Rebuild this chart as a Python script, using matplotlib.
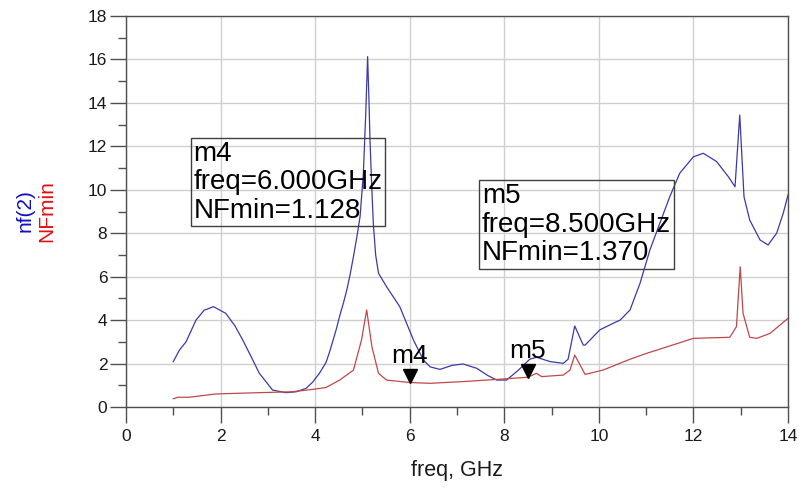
import matplotlib.pyplot as plt
import numpy as np
from matplotlib.ticker import MultipleLocator
from matplotlib.transforms import ScaledTranslation

plt.rcParams['font.family'] = ['Liberation Sans', 'DejaVu Sans']

# nf(2) trace
freq_nf = [1.00, 1.13, 1.27, 1.48, 1.65, 1.85, 2.11, 2.30, 2.47, 2.65, 2.82, 3.10,
           3.38, 3.60, 3.81, 3.95, 4.09, 4.23, 4.30, 4.38, 4.45, 4.52, 4.60, 4.67,
           4.74, 4.81, 4.88, 4.95, 5.02, 5.07, 5.11, 5.14, 5.16, 5.20, 5.23, 5.28,
           5.34, 5.51, 5.79, 6.08, 6.29, 6.43, 6.64, 6.90, 7.13, 7.42, 7.65, 7.84,
           8.05, 8.30, 8.54, 8.68, 8.97, 9.25, 9.35, 9.49, 9.67, 9.71, 10.02, 10.30,
           10.45, 10.66, 10.87, 11.08, 11.29, 11.50, 11.71, 12.00, 12.21, 12.49,
           12.74, 12.88, 12.98, 13.07, 13.19, 13.41, 13.58, 13.76, 13.90, 14.00]
nf2 = [2.09, 2.62, 3.00, 4.00, 4.45, 4.62, 4.31, 3.75, 3.08, 2.30, 1.55, 0.78,
       0.66, 0.70, 0.86, 1.15, 1.55, 2.05, 2.50, 3.08, 3.60, 4.20, 4.80, 5.39,
       6.10, 6.92, 7.80, 8.76, 10.76, 13.50, 16.13, 14.00, 12.30, 10.00, 8.46, 7.00,
       6.16, 5.54, 4.62, 3.08, 2.16, 1.85, 1.73, 1.92, 1.98, 1.78, 1.45, 1.24,
       1.24, 1.70, 2.20, 2.29, 2.09, 2.01, 2.20, 3.73, 2.85, 2.85, 3.55, 3.85,
       4.00, 4.47, 5.69, 7.23, 8.46, 9.68, 10.76, 11.52, 11.68, 11.30,
       10.60, 10.14, 13.44, 9.68, 8.61, 7.69, 7.46, 8.00, 8.92, 9.76]

# NFmin trace
freq_nfmin = [1.00, 1.10, 1.34, 1.90, 2.82, 3.50, 3.95, 4.23, 4.52, 4.81, 4.98,
              5.09, 5.20, 5.34, 5.51, 6.00, 6.43, 7.13, 7.84, 8.50, 8.68, 8.79,
              9.25, 9.39, 9.49, 9.71, 10.09, 10.66, 11.01, 12.00, 12.77, 12.91,
              12.99, 13.05, 13.19, 13.34, 13.62, 14.00]
nfmin = [0.38, 0.45, 0.45, 0.60, 0.66, 0.70, 0.81, 0.90, 1.24, 1.70, 3.08,
         4.47, 2.78, 1.55, 1.24, 1.128, 1.09, 1.17, 1.27, 1.370, 1.55, 1.40,
         1.47, 1.70, 2.39, 1.50, 1.70, 2.20, 2.47, 3.16, 3.21, 3.70,
         6.46, 4.31, 3.21, 3.16, 3.39, 4.08]

# markers on NFmin
marker_names = ['m4', 'm5']
marker_freq = [6.0, 8.5]
marker_nfmin = [1.128, 1.370]
# readout box anchors (upper-left corner, data coords)
box_pos = [(1.43, 12.25), (7.53, 10.3)]

blue = '#3a3aa8'
red = '#c04848'
axis_col = '#505050'

fig = plt.figure(figsize=(7.99, 4.90), dpi=100)
ax = fig.add_axes([0.1577, 0.1694, 0.8285, 0.7979])

ax.plot(freq_nf, nf2, color=blue, lw=0.9, zorder=3)
ax.plot(freq_nfmin, nfmin, color=red, lw=0.9, zorder=3)

ax.set_xlim(0, 14)
ax.set_ylim(0, 18)
ax.xaxis.set_major_locator(MultipleLocator(2))
ax.xaxis.set_minor_locator(MultipleLocator(1))
ax.yaxis.set_major_locator(MultipleLocator(2))
ax.yaxis.set_minor_locator(MultipleLocator(1))
ax.grid(True, which='major', color='#cfcfcf', lw=1.0, zorder=0)
ax.tick_params(which='major', length=11.5, width=1, color=axis_col,
               labelsize=12.5, labelcolor='#1a1a1a')
ax.tick_params(which='minor', length=6, width=1, color=axis_col)
ax.tick_params(axis='x', which='major', pad=4)
ax.tick_params(axis='y', which='major', pad=2)
for sp in ax.spines.values():
    sp.set_color(axis_col)
    sp.set_linewidth(1)

ax.set_xlabel('freq, GHz', fontsize=15.5, labelpad=12, color='#1a1a1a')
# two-colour y label, one trace name per column
fig.text(0.031, 0.57, 'nf(2)', rotation=90, color='#1010c0', fontsize=15,
         ha='center', va='center')
fig.text(0.059, 0.57, 'NFmin', rotation=90, color='#e01010', fontsize=15,
         ha='center', va='center')

# marker triangles with names, and readout boxes
tri_shift = ScaledTranslation(0, 4.6 / 72, fig.dpi_scale_trans)
for name, f, v, (bx, by) in zip(marker_names, marker_freq, marker_nfmin, box_pos):
    ax.plot([f], [v], marker='v', ms=10, color='black', zorder=5,
            transform=ax.transData + tri_shift)
    ax.annotate(name, (f, v), xytext=(0, 14), textcoords='offset points',
                ha='center', va='baseline', fontsize=19, zorder=6)
    ax.text(bx, by, f'{name}\nfreq={f:.3f}GHz\nNFmin={v:.3f}', fontsize=20,
            linespacing=1.12, ha='left', va='top', zorder=4,
            bbox=dict(boxstyle='square,pad=0.1', fc='none', ec='#404040', lw=1))

fig.savefig('out.png', dpi=100)
